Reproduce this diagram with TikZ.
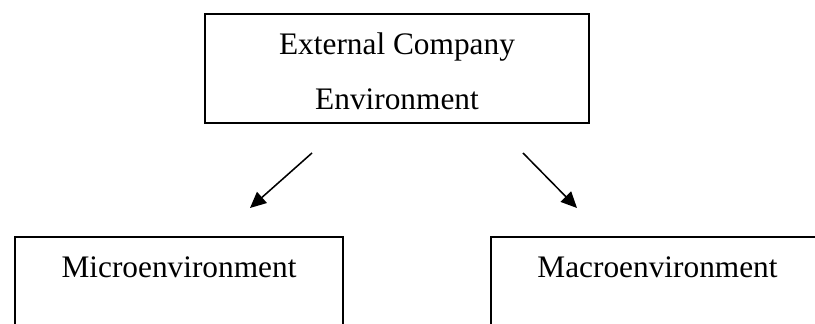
\documentclass[tikz,border=0pt]{standalone}
\usepackage{fontspec}
\setmainfont{Liberation Serif}
\usetikzlibrary{arrows.meta}
\begin{document}
\begin{tikzpicture}[x=0.75pt,y=-0.75pt,
  box/.style={draw, line width=1.35pt, inner sep=0pt, outer sep=0pt},
  txt/.style={anchor=base, inner sep=0pt, font=\fontsize{23.5}{28}\selectfont},
  flow/.style={line width=1.15pt, -{Triangle[length=12pt,width=11pt]}}]
\useasboundingbox (0,0) rectangle (815,324);
\clip (0,0) rectangle (815,324);

% boxes
\node[box, minimum width=288pt, minimum height=81.75pt] (ext) at (397,68.5) {};
\node[box, minimum width=246pt, minimum height=77.25pt] (micro) at (179,288.5) {};
\node[box, minimum width=249.75pt, minimum height=77.25pt] (macro) at (657.5,288.5) {};

% labels
\node[txt] (ext1) at (397,55) {External Company};
\node[txt] (ext2) at (397,110) {Environment};
\node[txt] (microt) at (179,278) {Microenvironment};
\node[txt] (macrot) at (657.5,278) {Macroenvironment};

% arrows
\coordinate (ls) at (312,153);
\coordinate (le) at (250,208);
\coordinate (rs) at (523,153);
\coordinate (re) at (577,208);
\draw[flow] (ls) -- (le);
\draw[flow] (rs) -- (re);
\end{tikzpicture}
\end{document}
